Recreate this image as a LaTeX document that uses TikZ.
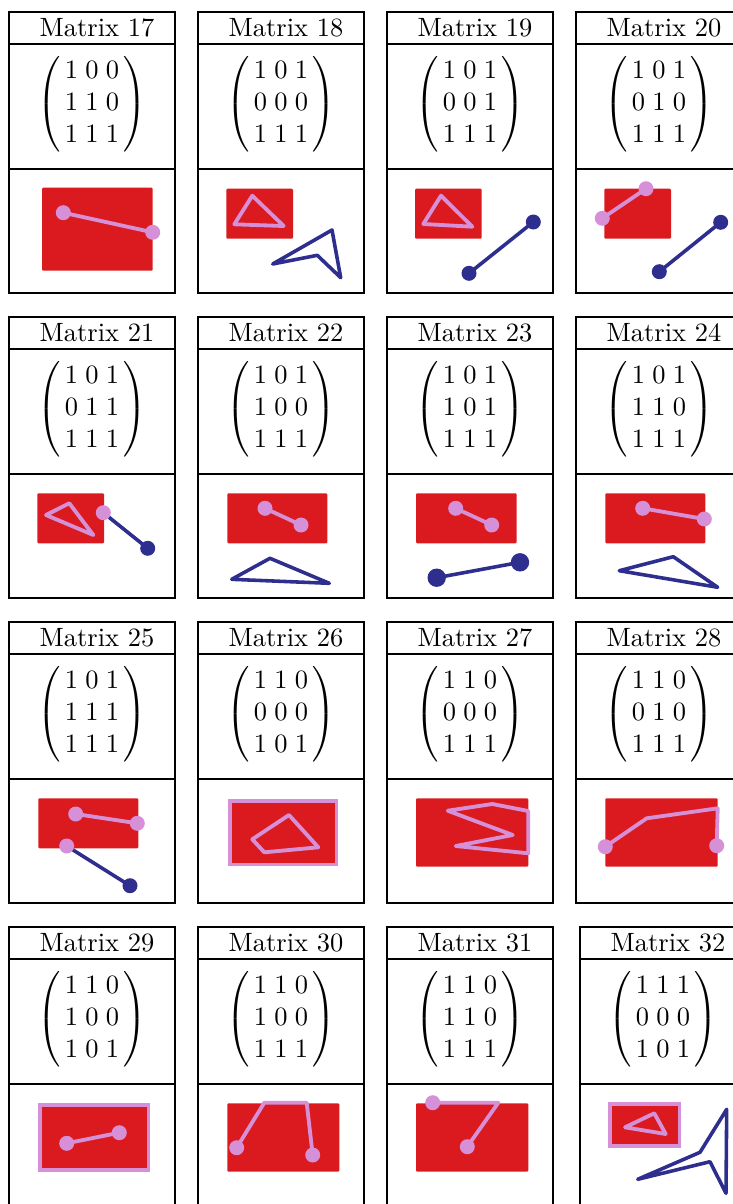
\documentclass[tikz,border=0pt]{standalone}
\usepackage{amsmath}
\definecolor{redc}{RGB}{218,26,30}
\definecolor{pinkc}{RGB}{214,144,216}
\definecolor{navyc}{RGB}{46,46,142}
\tikzset{
  frame/.style={draw=black,line width=0.82pt},
  ttl/.style={anchor=base,inner sep=0pt},
  mat/.style={inner sep=0pt},
  redbox/.style={fill=redc,rounded corners=0.4pt},
  redpink/.style={fill=redc,draw=pinkc,line width=1.3pt},
  pinkl/.style={draw=pinkc,line width=1.45pt,line join=round,line cap=round},
  navyl/.style={draw=navyc,line width=1.35pt,line join=round,line cap=round},
}
\newcommand{\mrow}[3]{\,#1\;#2\;#3\,}
\newcommand{\mpanel}[4]{%
  \draw[frame] (#1,#2) rectangle ++(166,281.3);
  \draw[frame] (#1,#2+32.3) -- ++(166,0);
  \draw[frame] (#1,#2+157) -- ++(166,0);
  \node[ttl] (t#3) at (#1+88,#2+24) {Matrix #3};
  \node[mat] (m#3) at (#1+83,#2+92) {$\begin{pmatrix}#4\end{pmatrix}$};
}
\newcommand{\pdot}[1]{\fill[pinkc] #1 circle (7.5);}
\newcommand{\ndot}[1]{\fill[navyc] #1 circle (7.5);}
\begin{document}
\begin{tikzpicture}[x=0.378pt,y=-0.378pt]
\useasboundingbox (0,0) rectangle (733,1204);
\clip (0,0) rectangle (733,1204);
% ---- frames ----
\mpanel{9}{12}{17}{\mrow100\\\mrow110\\\mrow111}
\mpanel{198}{12}{18}{\mrow101\\\mrow000\\\mrow111}
\mpanel{387}{12}{19}{\mrow101\\\mrow001\\\mrow111}
\mpanel{576}{12}{20}{\mrow101\\\mrow010\\\mrow111}
\mpanel{9}{317}{21}{\mrow101\\\mrow011\\\mrow111}
\mpanel{198}{317}{22}{\mrow101\\\mrow100\\\mrow111}
\mpanel{387}{317}{23}{\mrow101\\\mrow101\\\mrow111}
\mpanel{576}{317}{24}{\mrow101\\\mrow110\\\mrow111}
\mpanel{9}{622}{25}{\mrow101\\\mrow111\\\mrow111}
\mpanel{198}{622}{26}{\mrow110\\\mrow000\\\mrow101}
\mpanel{387}{622}{27}{\mrow110\\\mrow000\\\mrow111}
\mpanel{576}{622}{28}{\mrow110\\\mrow010\\\mrow111}
\mpanel{9}{927}{29}{\mrow110\\\mrow100\\\mrow101}
\mpanel{198}{927}{30}{\mrow110\\\mrow100\\\mrow111}
\mpanel{387}{927}{31}{\mrow110\\\mrow110\\\mrow111}
\mpanel{580}{927}{32}{\mrow111\\\mrow000\\\mrow101}
% ---- 17 ----
\fill[redbox] (42,187.7) rectangle (152.7,270.7);
\draw[pinkl] (63.3,212.7) -- (152.7,232.3);
\pdot{(63.3,212.7)} \pdot{(152.7,232.3)}
% ---- 18 ----
\fill[redbox] (226.3,188.7) rectangle (293,238.7);
\draw[pinkl] (252.3,195.7) -- (234.3,224.3) -- (283.7,226) -- cycle;
\draw[navyl] (272.7,264) -- (332,230) -- (340.7,277.7) -- (317.3,255.3) -- cycle;
% ---- 19 ----
\fill[redbox] (415,188.7) rectangle (481.7,238.7);
\draw[pinkl] (441,195.7) -- (423.3,224) -- (472.3,226.7) -- cycle;
\draw[navyl] (469,273.3) -- (533.3,222);
\ndot{(469,273.3)} \ndot{(533.3,222)}
% ---- 20 ----
\fill[redbox] (604.3,188.7) rectangle (671,238.7);
\draw[pinkl] (602.3,218.3) -- (646,188.7);
\pdot{(602.3,218.3)} \pdot{(646,188.7)}
\draw[navyl] (659.3,271.7) -- (720.7,222.3);
\ndot{(659.3,271.7)} \ndot{(720.7,222.3)}
% ---- 21 ----
\fill[redbox] (37.3,493.3) rectangle (104,543.3);
\draw[pinkl] (46,515) -- (69.3,503.3) -- (93.3,535) -- cycle;
\draw[navyl] (103.3,512.7) -- (147.7,548.3);
\pdot{(103.3,512.7)} \ndot{(147.7,548.3)}
% ---- 22 ----
\fill[redbox] (227.3,493.3) rectangle (327.3,543.3);
\draw[pinkl] (265,508.3) -- (301,525);
\pdot{(265,508.3)} \pdot{(301,525)}
\draw[navyl] (231.7,579.3) -- (270,558.3) -- (329.3,583.3) -- cycle;
% ---- 23 ----
\fill[redbox] (416,493.3) rectangle (516.7,543.3);
\draw[pinkl] (455.7,508.3) -- (491.7,525);
\pdot{(455.7,508.3)} \pdot{(491.7,525)}
\draw[navyl] (436.7,577.7) -- (520,562.3);
\fill[navyc] (436.7,577.7) circle (9.2);
\fill[navyc] (520,562.3) circle (9.2);
% ---- 24 ----
\fill[redbox] (605.3,493.3) rectangle (705.3,543.3);
\draw[pinkl] (642.7,508.3) -- (704.3,519);
\pdot{(642.7,508.3)} \pdot{(704.3,519)}
\draw[navyl] (619.3,570.7) -- (673.3,556.7) -- (717.7,587.3) -- cycle;
% ---- 25 ----
\fill[redbox] (38.3,798.3) rectangle (138.3,848.3);
\draw[pinkl] (75.7,814) -- (137.3,823.3);
\pdot{(75.7,814)} \pdot{(137.3,823.3)}
\draw[navyl] (66.7,846) -- (130,885.7);
\pdot{(66.7,846)} \ndot{(130,885.7)}
% ---- 26 ----
\filldraw[redpink] (230,801) rectangle (336.7,864.3);
\draw[pinkl] (252.3,839.3) -- (289,815) -- (318.3,847.3) -- (264.3,852.3) -- cycle;
% ---- 27 ----
\fill[redbox] (416,798.3) rectangle (528.3,866.7);
\draw[pinkl] (447.7,810.7) -- (492.3,804) -- (528.3,811) -- (528.3,853.3) -- (455.7,846) -- (512.7,835) -- cycle;
% ---- 28 ----
\fill[redbox] (605.3,798.3) rectangle (717.7,866.7);
\draw[pinkl] (605.3,846.7) -- (646.7,818.3) -- (717.7,808.3) -- (716.7,845.7);
\pdot{(605.3,846.7)} \pdot{(716.7,845.7)}
% ---- 29 ----
\filldraw[redpink] (40,1105) rectangle (148.3,1170);
\draw[pinkl] (66.7,1143.3) -- (119.3,1132.7);
\pdot{(66.7,1143.3)} \pdot{(119.3,1132.7)}
% ---- 30 ----
\fill[redbox] (227.3,1103.3) rectangle (339.3,1171.7);
\draw[pinkl] (236.7,1147.7) -- (264.3,1102.7) -- (306.7,1102.7) -- (312.7,1155);
\pdot{(236.7,1147.7)} \pdot{(312.7,1155)}
% ---- 31 ----
\fill[redbox] (416,1103.3) rectangle (528.3,1171.7);
\draw[pinkl] (432.7,1102.7) -- (498.3,1102.7) -- (467.3,1146.7);
\pdot{(432.7,1102.7)} \pdot{(467.3,1146.7)}
% ---- 32 ----
\filldraw[redpink] (610,1104) rectangle (679.7,1146);
\draw[pinkl] (625,1127.3) -- (654.3,1113.3) -- (665.7,1134) -- cycle;
\draw[navyl] (637.7,1179.3) -- (700,1152.3) -- (726.7,1109.3) -- (726,1193.3) -- (710,1161.7) -- cycle;
\end{tikzpicture}
\end{document}
